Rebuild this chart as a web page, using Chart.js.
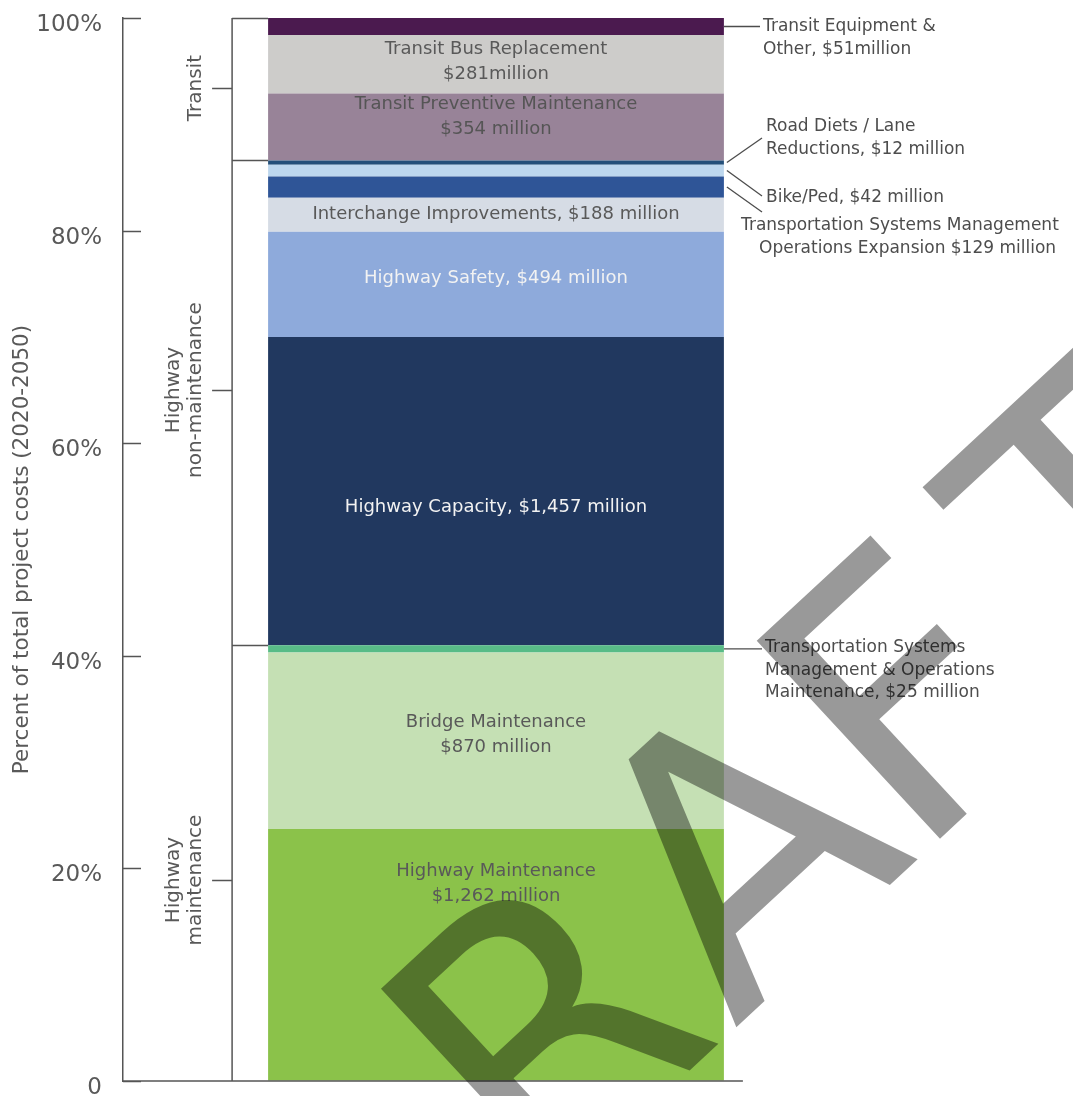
<!DOCTYPE html>
<html>
<head>
<meta charset="utf-8">
<title>Project costs by category, 2020-2050</title>
<script src="https://cdn.jsdelivr.net/npm/chart.js@4.4.0/dist/chart.umd.min.js"></script>
<style>
  html, body { margin: 0; padding: 0; background: #fff; }
  #wrap { width: 1073px; height: 1096px; position: relative; }
</style>
</head>
<body>
<div id="wrap"><canvas id="costChart"></canvas></div>
<script>
// one stacked bar, bottom segment first; shares are % of total project cost
const categories = [
  'Highway Maintenance', 'Bridge Maintenance', 'TSMO Maintenance',
  'Highway Capacity', 'Highway Safety', 'Interchange Improvements',
  'TSMO Expansion', 'Bike/Ped', 'Road Diets / Lane Reductions',
  'Transit Preventive Maintenance', 'Transit Bus Replacement', 'Transit Equipment & Other'
];
const shares = [23.7, 16.6, 0.7, 29.0, 9.9, 3.2, 2.0, 1.1, 0.4, 6.3, 5.5, 1.6];
const costs = [1262, 870, 25, 1457, 494, 188, 129, 42, 12, 354, 281, 51]; // $ million
const colors = [
  '#8BC24A', '#C5E0B4', '#58BC87',
  '#21385F', '#8EAADB', '#D6DCE5',
  '#2F5597', '#BDD7EE', '#24507A',
  '#988398', '#CDCCCA', '#4B1A4F'
];
const yTicks = [0, 20, 40, 60, 80, 100];

const groups = [['Highway', 'maintenance'], ['Highway', 'non-maintenance'], ['Transit']];
const groupEnds = [3, 9, 12];           // dataset index where each group stops
const groupTicks = [18.9, 65.0, 93.4];  // where the group label sits, in %

// labels written inside the bar (null = labelled outside)
const insideText = [
  ['Highway Maintenance', '$1,262 million'],
  ['Bridge Maintenance', '$870 million'],
  null,
  ['Highway Capacity, $1,457 million'],
  ['Highway Safety, $494 million'],
  ['Interchange Improvements, $188 million'],
  null, null, null,
  ['Transit Preventive Maintenance', '$354 million'],
  ['Transit Bus Replacement', '$281million'],
  null
];
const insideShift = [-71, -6, 0, 16, -6, 0, 0, 0, 0, -10, -2, 0];
const insideColor = ['#595959', '#595959', '', '#F2F2F2', '#F2F2F2', '#595959', '', '', '', '#555555', '#595959', ''];

// labels outside the bar with a leader line
const callouts = [
  { i: 11, lines: ['Transit Equipment &', 'Other, $51million'], x: [763, 763], y: 27, to: [760] },
  { i: 8, lines: ['Road Diets / Lane', 'Reductions, $12 million'], x: [766, 766], y: 127, to: [762, 138] },
  { i: 7, lines: ['Bike/Ped, $42 million'], x: [766], y: 198, to: [762, 196] },
  { i: 6, lines: ['Transportation Systems Management', 'Operations Expansion $129 million'], x: [741, 759], y: 226, to: [762, 212] },
  { i: 2, lines: ['Transportation Systems', 'Management & Operations', 'Maintenance, $25 million'], x: [765, 765, 765], y: 648, to: [762] }
];

const FONT = '"DejaVu Sans", sans-serif';
const AXIS = '#555555';

const costLayer = {
  id: 'costLayer',
  afterDatasetsDraw(chart) {
    const { ctx, chartArea } = chart;
    const y = chart.scales.y;
    const bars = shares.map((v, i) => chart.getDatasetMeta(i).data[0].getProps(['x', 'y', 'base', 'width'], true));
    const barLeft = bars[0].x - bars[0].width / 2;
    const barRight = bars[0].x + bars[0].width / 2;
    const bracketX = barLeft - 36;

    ctx.save();
    ctx.strokeStyle = AXIS;
    ctx.lineWidth = 1.5;
    ctx.beginPath();
    // inward tick marks on the % axis
    yTicks.forEach(t => {
      const py = Math.round(y.getPixelForValue(t)) + 0.5;
      ctx.moveTo(chartArea.left, py);
      ctx.lineTo(chartArea.left + 18, py);
    });
    // base line
    ctx.moveTo(chartArea.left, chartArea.bottom);
    ctx.lineTo(barRight + 19, chartArea.bottom);
    // group bracket
    ctx.moveTo(bracketX, y.getPixelForValue(100));
    ctx.lineTo(bracketX, chartArea.bottom);
    let cum = 0, k = 0;
    shares.forEach((v, i) => {
      cum += v;
      if (i + 1 === groupEnds[k]) {
        const py = Math.round(y.getPixelForValue(cum)) + 0.5;
        ctx.moveTo(bracketX, py);
        ctx.lineTo(barLeft, py);
        k++;
      }
    });
    groupTicks.forEach(t => {
      const py = Math.round(y.getPixelForValue(t)) + 0.5;
      ctx.moveTo(bracketX - 20, py);
      ctx.lineTo(bracketX, py);
    });
    ctx.stroke();

    // group names, rotated; last line sits nearest the bracket
    ctx.fillStyle = '#595959';
    ctx.font = '20px ' + FONT;
    ctx.textAlign = 'center';
    ctx.textBaseline = 'middle';
    groups.forEach((lines, g) => {
      const py = y.getPixelForValue(groupTicks[g]);
      ctx.save();
      ctx.translate(bracketX - 36, py);
      ctx.rotate(-Math.PI / 2);
      lines.forEach((s, j) => {
        ctx.fillText(s, 0, (j - (lines.length - 1)) * 22);
      });
      ctx.restore();
    });

    // labels inside segments
    ctx.font = '18px ' + FONT;
    insideText.forEach((lines, i) => {
      if (!lines) return;
      const b = bars[i];
      const cy = (b.y + b.base) / 2 + insideShift[i];
      ctx.fillStyle = insideColor[i];
      lines.forEach((s, j) => {
        ctx.fillText(s, b.x, cy + (j - (lines.length - 1) / 2) * 25);
      });
    });

    // callouts with leader lines
    ctx.font = '17px ' + FONT;
    ctx.textAlign = 'left';
    ctx.fillStyle = '#4D4D4D';
    ctx.strokeStyle = '#4D4D4D';
    ctx.lineWidth = 1.3;
    callouts.forEach(c => {
      const b = bars[c.i];
      const sy = (b.y + b.base) / 2;
      const flat = c.to.length === 1;
      ctx.beginPath();
      ctx.moveTo(barRight + (flat ? 0 : 3), sy);
      ctx.lineTo(c.to[0], flat ? sy : c.to[1]);
      ctx.stroke();
      c.lines.forEach((s, j) => ctx.fillText(s, c.x[j], c.y + j * 22.5));
    });
    ctx.restore();
  },
  afterDraw(chart) {
    // DRAFT watermark across the chart
    const ctx = chart.ctx;
    const letters = ['D', 'R', 'A', 'F', 'T'];
    const along = [-600, -300, -34, 190, 460];
    ctx.save();
    ctx.rotate(-42.8 * Math.PI / 180);
    ctx.font = '370px ' + FONT;
    ctx.fillStyle = 'rgba(0, 0, 0, 0.4)';
    ctx.textAlign = 'center';
    ctx.textBaseline = 'alphabetic';
    letters.forEach((ch, i) => ctx.fillText(ch, along[i], 1254));
    ctx.restore();
  }
};

Chart.defaults.font.family = FONT;

new Chart(document.getElementById('costChart'), {
  type: 'bar',
  data: {
    labels: ['Total'],
    datasets: categories.map((name, i) => ({
      label: name + ', $' + costs[i] + ' million',
      data: [shares[i]],
      backgroundColor: colors[i],
      borderWidth: 0,
      categoryPercentage: 0.611,
      barPercentage: 1
    }))
  },
  options: {
    responsive: true,
    maintainAspectRatio: false,
    animation: false,
    layout: { padding: { top: 18, bottom: 15, left: 10, right: 204 } },
    plugins: { legend: { display: false }, tooltip: { enabled: false } },
    scales: {
      x: { stacked: true, display: false },
      y: {
        stacked: true,
        min: 0,
        max: 100,
        afterFit(scale) {
          scale.width = 113;
          scale.paddingTop = 0;
          scale.paddingBottom = 0;
        },
        afterBuildTicks(scale) { scale.ticks = yTicks.map(v => ({ value: v })); },
        ticks: {
          callback: v => v === 0 ? '0' : v + '%',
          font: { size: 23 },
          color: '#595959',
          padding: 21,
          labelOffset: 7
        },
        grid: { drawOnChartArea: false, drawTicks: false },
        border: { display: true, color: AXIS, width: 1.5 },
        title: {
          display: true,
          text: 'Percent of total project costs (2020-2050)',
          font: { size: 21.5 },
          color: '#595959',
          padding: { top: 0, bottom: 0 }
        }
      }
    }
  },
  plugins: [costLayer]
});
</script>
</body>
</html>
